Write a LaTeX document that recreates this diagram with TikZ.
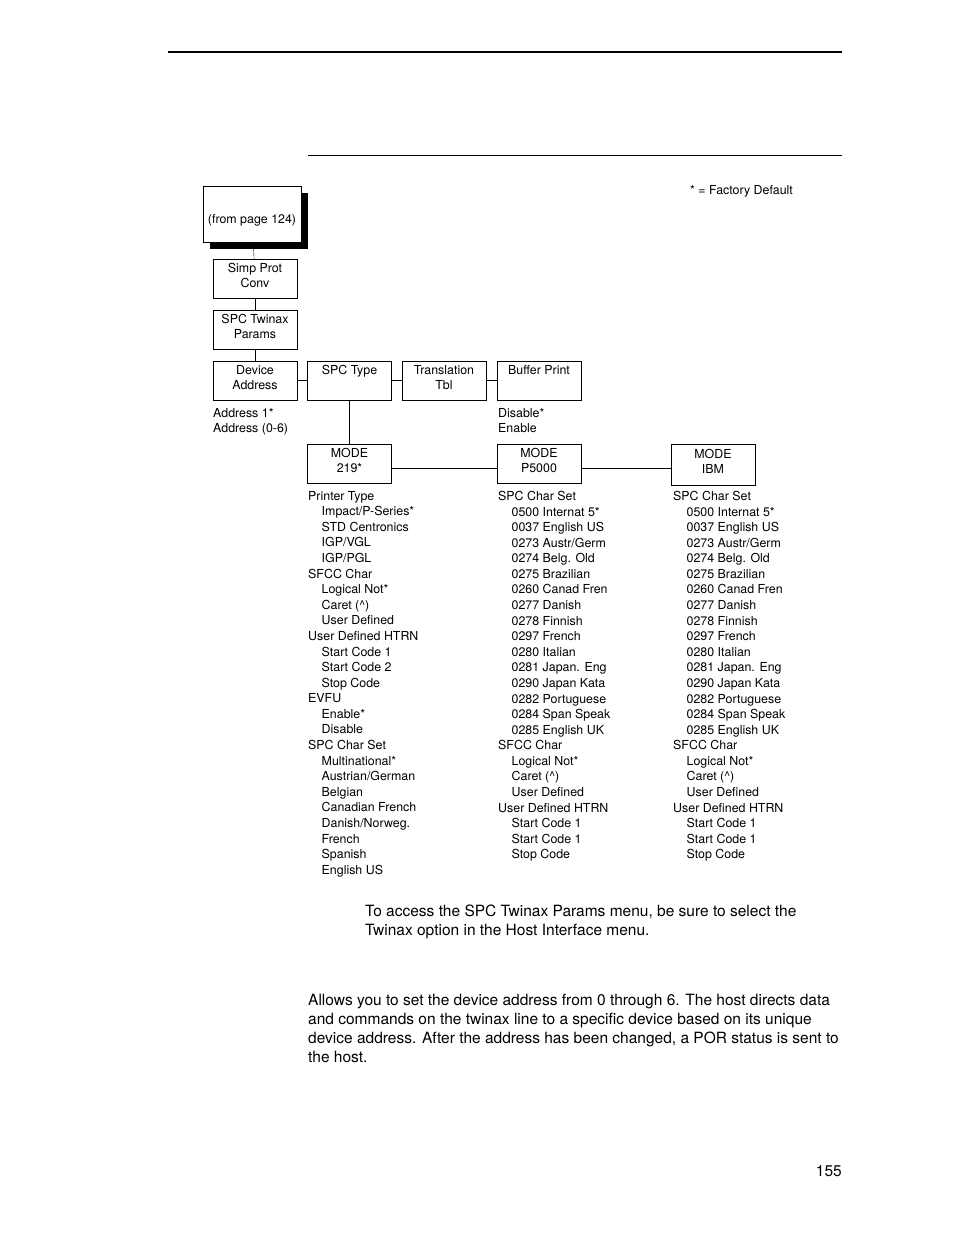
\documentclass[tikz,border=0pt]{standalone}
\usepackage{fontspec}
\setmainfont{TeX Gyre Heros}
\usetikzlibrary{shadows}

\newcommand{\boxfont}{\fontsize{12.4}{15}\selectfont}
\newcommand{\listfont}{\fontsize{12.4}{15.58}\selectfont}
\newcommand{\bodyfont}{\fontsize{15.5}{19}\selectfont}
\newcommand{\ind}{\hspace*{13.5pt}}
\newcommand{\crt}{Caret (\textasciicircum)}

\tikzset{
  menubox/.style={draw, fill=white, minimum width=84pt, minimum height=39pt,
    inner sep=0pt, align=center, text depth=6pt, font=\boxfont},
  optlist/.style={anchor=north west, inner sep=0pt, align=left, font=\listfont},
  bodytext/.style={anchor=north west, inner sep=0pt, align=left, font=\bodyfont}
}

\begin{document}
\begin{tikzpicture}[x=1pt,y=-1pt]
\useasboundingbox (0,0) rectangle (954,1235);

\draw[line width=2pt] (168,52) -- (842,52);
\draw[line width=1pt] (308,155) -- (842,155);

\node[anchor=north west, inner sep=0pt, font=\listfont] (legend) at (690,185.5) {* = Factory Default};

\node[draw, fill=white, minimum width=98pt, minimum height=56pt, inner sep=0pt,
  text height=22pt, font=\boxfont,
  general shadow={fill=black, shadow xshift=7pt, shadow yshift=-7pt}] (from) at (252,214) {(from page 124)};

\node[menubox] (simp) at (255,278.5) {Simp Prot\\Conv};
\node[menubox] (twinax) at (255,329.5) {SPC Twinax\\Params};
\node[menubox] (devaddr) at (255,380.5) {Device\\Address};
\node[menubox] (spctype) at (349.5,380.5) {SPC Type\\\mbox{}};
\node[menubox] (transtbl) at (444,380.5) {Translation\\Tbl};
\node[menubox] (bufprint) at (539,380.5) {Buffer Print\\\mbox{}};

\node[menubox] (m219) at (349.5,463.5) {MODE\\219*};
\node[menubox] (mp5000) at (539,463.5) {MODE\\P5000};
\node[menubox, minimum height=41pt] (mibm) at (713,464.5) {MODE\\IBM};

\draw (from) -- (simp);
\draw (simp) -- (twinax);
\draw (twinax) -- (devaddr);
\draw (devaddr) -- (spctype);
\draw (spctype) -- (transtbl);
\draw (transtbl) -- (bufprint);
\draw (spctype) -- (m219);
\draw ([yshift=-5pt]m219.east) -- ([yshift=-5pt]m219.east -| mp5000.west);
\draw ([yshift=-5pt]mp5000.east) -- ([yshift=-5pt]mp5000.east -| mibm.west);

\node[optlist] (addrlist) at (213,408) {Address 1*\\Address (0-6)};
\node[optlist] (buflist) at (498,408) {Disable*\\Enable};

\node[optlist] (list219) at (308,491) {Printer Type\\
\ind Impact/P-Series*\\ \ind STD Centronics\\ \ind IGP/VGL\\ \ind IGP/PGL\\
SFCC Char\\ \ind Logical Not*\\ \ind \crt\\ \ind User Defined\\
User Defined HTRN\\ \ind Start Code 1\\ \ind Start Code 2\\ \ind Stop Code\\
EVFU\\ \ind Enable*\\ \ind Disable\\
SPC Char Set\\ \ind Multinational*\\ \ind Austrian/German\\ \ind Belgian\\
\ind Canadian French\\ \ind Danish/Norweg.\\ \ind French\\ \ind Spanish\\ \ind English US};

\node[optlist] (listp5000) at (498,491) {SPC Char Set\\
\ind 0500 Internat 5*\\ \ind 0037 English US\\ \ind 0273 Austr/Germ\\ \ind 0274 Belg. Old\\
\ind 0275 Brazilian\\ \ind 0260 Canad Fren\\ \ind 0277 Danish\\ \ind 0278 Finnish\\
\ind 0297 French\\ \ind 0280 Italian\\ \ind 0281 Japan. Eng\\ \ind 0290 Japan Kata\\
\ind 0282 Portuguese\\ \ind 0284 Span Speak\\ \ind 0285 English UK\\
SFCC Char\\ \ind Logical Not*\\ \ind \crt\\ \ind User Defined\\
User Defined HTRN\\ \ind Start Code 1\\ \ind Start Code 1\\ \ind Stop Code};

\node[optlist] (listibm) at (673,491) {SPC Char Set\\
\ind 0500 Internat 5*\\ \ind 0037 English US\\ \ind 0273 Austr/Germ\\ \ind 0274 Belg. Old\\
\ind 0275 Brazilian\\ \ind 0260 Canad Fren\\ \ind 0277 Danish\\ \ind 0278 Finnish\\
\ind 0297 French\\ \ind 0280 Italian\\ \ind 0281 Japan. Eng\\ \ind 0290 Japan Kata\\
\ind 0282 Portuguese\\ \ind 0284 Span Speak\\ \ind 0285 English UK\\
SFCC Char\\ \ind Logical Not*\\ \ind \crt\\ \ind User Defined\\
User Defined HTRN\\ \ind Start Code 1\\ \ind Start Code 1\\ \ind Stop Code};

\node[bodytext] (note) at (365,905) {To access the SPC Twinax Params menu, be sure to select the\\
Twinax option in the Host Interface menu.};

\node[bodytext] (descr) at (308,994) {Allows you to set the device address from 0 through 6. The host directs data\\
and commands on the twinax line to a specific device based on its unique\\
device address. After the address has been changed, a POR status is sent to\\
the host.};

\node[anchor=east, inner sep=0pt, font=\bodyfont] (pagenum) at (842,1171) {155};
\end{tikzpicture}
\end{document}
